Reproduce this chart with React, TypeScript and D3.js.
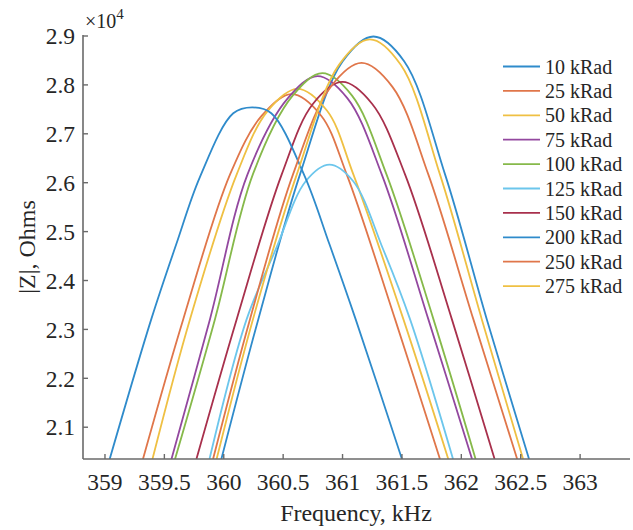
import React from "react";
import * as d3 from "d3";

// Values are |Z| in units of 1e4 Ohms, frequencies in kHz
const seriesLabels = ["10 kRad", "25 kRad", "50 kRad", "75 kRad", "100 kRad", "125 kRad", "150 kRad", "200 kRad", "250 kRad", "275 kRad"];
const seriesColors = ["#2f8bcb", "#e0764a", "#efc043", "#93489f", "#86b94a", "#6cc6ec", "#a8304c", "#2f8bcb", "#e0764a", "#efc043"];
const xTicks = [359, 359.5, 360, 360.5, 361, 361.5, 362, 362.5, 363];
const yTicks = [2.1, 2.2, 2.3, 2.4, 2.5, 2.6, 2.7, 2.8, 2.9];

const kRad10: [number, number][] = [[359.98, 2.035], [360.291, 2.321], [360.642, 2.617], [361.0, 2.848], [361.26, 2.899], [361.52, 2.848], [361.863, 2.617], [362.214, 2.321], [362.57, 2.035]];
const kRad25: [number, number][] = [[359.32, 2.035], [359.659, 2.321], [360.053, 2.617], [360.32, 2.737], [360.57, 2.781], [360.82, 2.737], [361.035, 2.617], [361.442, 2.321], [361.82, 2.035]];
const kRad50: [number, number][] = [[359.40, 2.035], [359.716, 2.321], [360.109, 2.617], [360.37, 2.747], [360.62, 2.792], [360.87, 2.747], [361.091, 2.617], [361.512, 2.321], [361.89, 2.035]];
const kRad75: [number, number][] = [[359.56, 2.035], [359.884, 2.321], [360.20, 2.617], [360.54, 2.773], [360.79, 2.818], [361.04, 2.773], [361.33, 2.617], [361.722, 2.321], [362.09, 2.035]];
const kRad100: [number, number][] = [[359.59, 2.035], [359.926, 2.321], [360.245, 2.617], [360.58, 2.778], [360.83, 2.824], [361.08, 2.778], [361.37, 2.617], [361.765, 2.321], [362.12, 2.035]];
const kRad125: [number, number][] = [[359.88, 2.035], [360.193, 2.321], [360.44, 2.465], [360.69, 2.603], [360.89, 2.637], [361.09, 2.603], [361.34, 2.465], [361.568, 2.321], [361.93, 2.035]];
const kRad150: [number, number][] = [[359.77, 2.035], [360.109, 2.321], [360.488, 2.617], [360.75, 2.761], [361.0, 2.806], [361.25, 2.761], [361.526, 2.617], [361.92, 2.321], [362.28, 2.035]];
const kRad200: [number, number][] = [[359.04, 2.035], [359.39, 2.321], [359.60, 2.474], [359.80, 2.612], [360.08, 2.742], [360.24, 2.754], [360.40, 2.742], [360.68, 2.614], [360.89, 2.474], [361.11, 2.321], [361.50, 2.035]];
const kRad250: [number, number][] = [[359.91, 2.035], [360.221, 2.321], [360.583, 2.617], [360.90, 2.796], [361.16, 2.845], [361.42, 2.796], [361.722, 2.617], [362.101, 2.321], [362.47, 2.035]];
const kRad275: [number, number][] = [[359.94, 2.035], [360.246, 2.321], [360.615, 2.617], [360.97, 2.841], [361.23, 2.893], [361.49, 2.841], [361.82, 2.617], [362.172, 2.321], [362.52, 2.035]];

const seriesData = [kRad10, kRad25, kRad50, kRad75, kRad100, kRad125, kRad150, kRad200, kRad250, kRad275];

const FONT = '"Liberation Serif", serif';

function T(props: any) {
  const { children, ...rest } = props;
  return (
    <text fontFamily="Liberation Serif" style={{ fontFamily: FONT }} fill="#262626" {...rest}>{children}</text>
  );
}

export default function App() {
  const W = 633, H = 530;
  const left = 83, right = 630, top = 36, bottom = 459;
  const x = d3.scaleLinear().domain([358.815, 363.42]).range([left, right]);
  const y = d3.scaleLinear().domain([2.035, 2.9]).range([bottom, top]);
  const line = d3.line<[number, number]>().x(d => x(d[0])).y(d => y(d[1])).curve(d3.curveCatmullRom.alpha(0.5));
  const axisColor = "#6a6a6a";

  return (
    <svg width={W} height={H} style={{ position: "absolute", left: 0, top: 0, background: "#fff" }}>
      <defs>
        <clipPath id="plotClip">
          <rect x={left} y={0} width={right - left} height={bottom} />
        </clipPath>
      </defs>
      <g clipPath="url(#plotClip)">
        {seriesData.map((d, i) => (
          <path key={i} d={line(d) || ""} fill="none" stroke={seriesColors[i]} strokeWidth={1.8} />
        ))}
      </g>
      <line x1={left} x2={left} y1={top - 1} y2={bottom} stroke={axisColor} strokeWidth={1.6} />
      <line x1={left} x2={right} y1={bottom} y2={bottom} stroke={axisColor} strokeWidth={1.6} />
      {yTicks.map(t => (
        <g key={"y" + t}>
          <line x1={left} x2={left + 5} y1={y(t)} y2={y(t)} stroke={axisColor} strokeWidth={1.4} />
          <T x={left - 8} y={y(t)} dy="0.35em" textAnchor="end" fontSize={23.5}>{d3.format(".1f")(t)}</T>
        </g>
      ))}
      {xTicks.map(t => (
        <g key={"x" + t}>
          <line x1={x(t)} x2={x(t)} y1={bottom} y2={bottom - 5} stroke={axisColor} strokeWidth={1.4} />
          <T x={x(t)} y={bottom + 31} textAnchor="middle" fontSize={23.5}>{String(t)}</T>
        </g>
      ))}
      <T x={85} y={28} fontSize={20}>×10<tspan dy={-9} fontSize={15}>4</tspan></T>
      <T x={356} y={521} textAnchor="middle" fontSize={24}>Frequency, kHz</T>
      <T transform="translate(35,247) rotate(-90)" textAnchor="middle" fontSize={24}>|Z|, Ohms</T>
      {seriesLabels.map((lab, i) => {
        const ly = 66.5 + i * 24.4;
        return (
          <g key={lab}>
            <line x1={503} x2={540} y1={ly} y2={ly} stroke={seriesColors[i]} strokeWidth={1.8} />
            <T x={545} y={ly} dy="0.35em" fontSize={20}>{lab}</T>
          </g>
        );
      })}
    </svg>
  );
}
